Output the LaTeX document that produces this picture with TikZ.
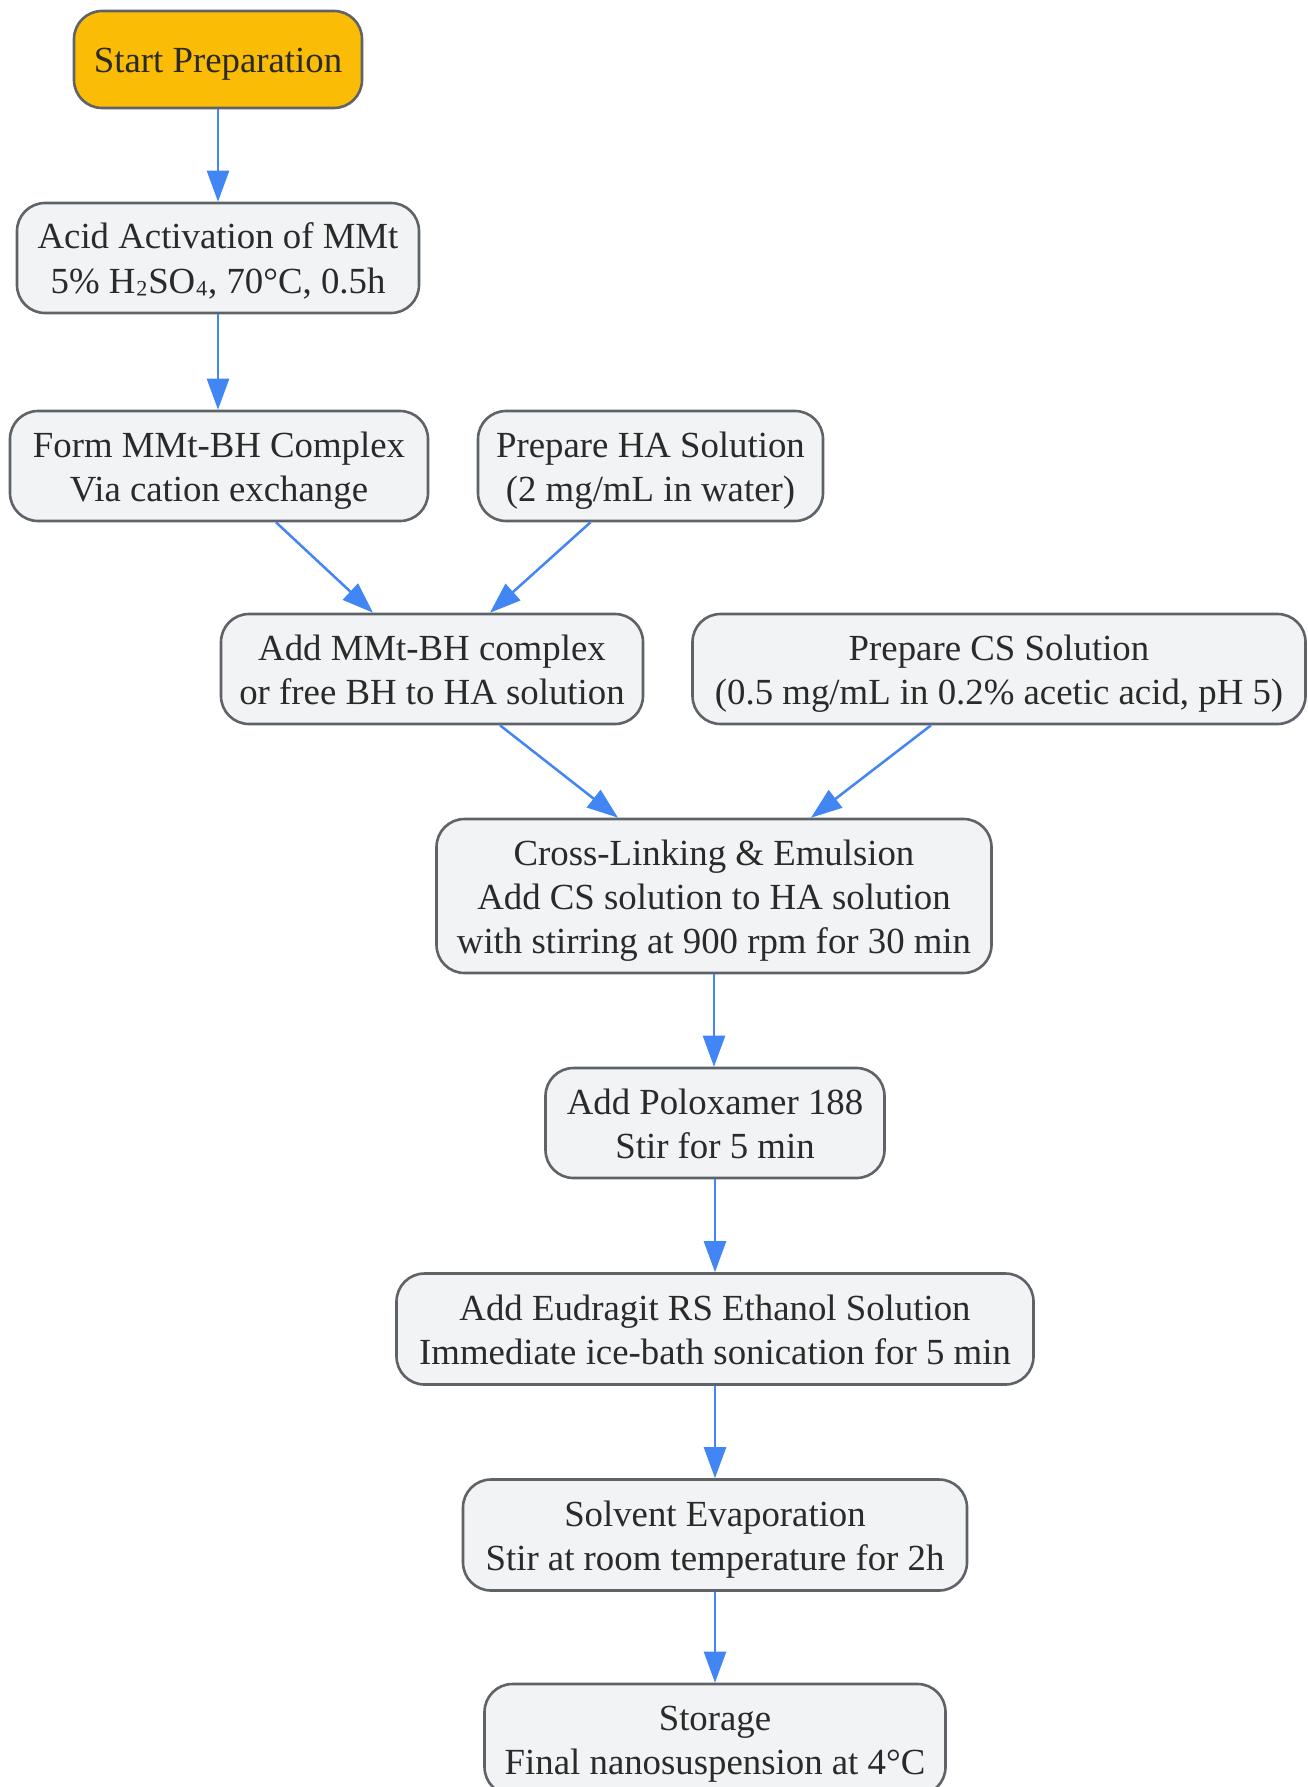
\documentclass[tikz,border=0pt]{standalone}
\usepackage{fontspec}
\setmainfont{Liberation Serif}
\usetikzlibrary{arrows.meta}
\definecolor{boxfill}{HTML}{F1F3F4}
\definecolor{boxline}{HTML}{5F6368}
\definecolor{startfill}{HTML}{FBBC05}
\definecolor{txt}{HTML}{2A2A2A}
\definecolor{arrowblue}{HTML}{4285F4}
\newcommand{\lnstrut}{\rule[-9pt]{0pt}{44pt}}
\newcommand{\subup}[1]{\raisebox{5pt}{#1}}
\tikzset{
  stepbox/.style={draw=boxline, line width=2.6pt, fill=boxfill, rounded corners=28pt,
    text=txt, align=center, inner sep=0pt,
    font=\fontsize{36.8pt}{44pt}\selectfont},
  startbox/.style={stepbox, fill=startfill},
  flow/.style={draw=arrowblue, line width=2.5pt, -{Triangle[length=31pt,width=22pt]}}
}
\begin{document}
\begin{tikzpicture}[x=1pt,y=-1pt]
\useasboundingbox (0,0) rectangle (1308,1787);
\clip (0,0) rectangle (1308,1787);
\fill[white] (0,0) rectangle (1308,1787);
\node[startbox, minimum width=288pt, minimum height=97pt] (start) at (218,59.5) {\lnstrut Start Preparation};
\node[stepbox, minimum width=402pt, minimum height=110pt] (acid) at (218,258) {\lnstrut Acid Activation of MMt\\\lnstrut 5\% H\subup{₂}SO\subup{₄}, 70°C, 0.5h};
\node[stepbox, minimum width=418pt, minimum height=110pt] (form) at (219,466) {\lnstrut Form MMt-BH Complex\\\lnstrut Via cation exchange};
\node[stepbox, minimum width=345pt, minimum height=110pt] (ha) at (650.5,466) {\lnstrut Prepare HA Solution\\\lnstrut (2 mg/mL in water)};
\node[stepbox, minimum width=422pt, minimum height=110pt] (addmmt) at (432,669) {\lnstrut Add MMt-BH complex\\\lnstrut or free BH to HA solution};
\node[stepbox, minimum width=613pt, minimum height=110pt] (cs) at (999,669) {\lnstrut Prepare CS Solution\\\lnstrut (0.5 mg/mL in 0.2\% acetic acid, pH 5)};
\node[stepbox, minimum width=555pt, minimum height=154pt] (cross) at (714,896) {\lnstrut Cross-Linking \& Emulsion\\\lnstrut Add CS solution to HA solution\\\lnstrut with stirring at 900 rpm for 30 min};
\node[stepbox, minimum width=339pt, minimum height=110pt] (polox) at (715,1123) {\lnstrut Add Poloxamer 188\\\lnstrut Stir for 5 min};
\node[stepbox, minimum width=637pt, minimum height=111pt] (eud) at (715,1329) {\lnstrut Add Eudragit RS Ethanol Solution\\\lnstrut Immediate ice-bath sonication for 5 min};
\node[stepbox, minimum width=504pt, minimum height=111pt] (solv) at (715,1535) {\lnstrut Solvent Evaporation\\\lnstrut Stir at room temperature for 2h};
\node[stepbox, minimum width=461pt, minimum height=111pt] (stor) at (715,1739.5) {\lnstrut Storage\\\lnstrut Final nanosuspension at 4°C};
\draw[flow] (start.south) -- (acid.north);
\draw[flow] (acid.south) -- (acid.south |- form.north);
\draw[flow] ([xshift=57pt]form.south) -- ([xshift=-59pt]addmmt.north);
\draw[flow] ([xshift=-60pt]ha.south) -- ([xshift=58pt]addmmt.north);
\draw[flow] ([xshift=68pt]addmmt.south) -- ([xshift=-96pt]cross.north);
\draw[flow] ([xshift=-68pt]cs.south) -- ([xshift=97pt]cross.north);
\draw[flow] (cross.south) -- (cross.south |- polox.north);
\draw[flow] (polox.south) -- (eud.north);
\draw[flow] (eud.south) -- (solv.north);
\draw[flow] (solv.south) -- (stor.north);
\end{tikzpicture}
\end{document}
